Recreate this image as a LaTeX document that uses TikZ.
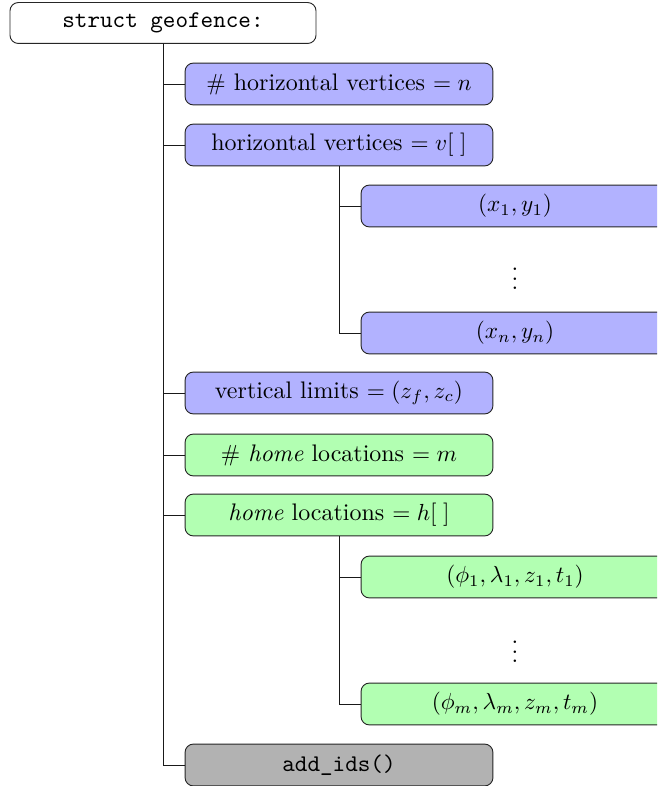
\documentclass[tikz,border=0pt]{standalone}
\begin{document}
\begin{tikzpicture}[x=0.43pt,y=-0.43pt,
  box/.style={draw=black!85, rounded corners=3.6pt, minimum width=132.4pt, minimum height=18pt, inner sep=0pt, font=\fontsize{10.3pt}{12.4pt}\selectfont},
  bluebox/.style={box, fill=blue!30},
  greenbox/.style={box, fill=green!30},
  graybox/.style={box, fill=black!30},
  dotnode/.style={font=\fontsize{10.3pt}{12.4pt}\selectfont},
  conn/.style={draw=black!90, line width=0.4pt}]
\useasboundingbox (0,0) rectangle (657,786);
\clip (0,0) rectangle (657,786);
\node[box, fill=white, minimum width=131.6pt, minimum height=17.6pt] (root) at (163,23) {\texttt{struct geofence:}};
\node[bluebox] (nv) at (339,84) {$\#$ horizontal vertices $= n$};
\node[bluebox] (hv) at (339,145) {horizontal vertices $= v[\;]$};
\node[bluebox] (x1) at (515,206) {$(x_1, y_1)$};
\node[dotnode] (d1) at (515,272) {$\vdots$};
\node[bluebox] (xn) at (515,333) {$(x_n, y_n)$};
\node[bluebox] (vl) at (339,393) {vertical limits $= (z_f, z_c)$};
\node[greenbox] (nh) at (339,455) {$\#$ \emph{home} locations $= m$};
\node[greenbox] (hl) at (339,515) {\emph{home} locations $= h[\;]$};
\node[greenbox] (h1) at (515,577) {$(\phi_1, \lambda_1, z_1, t_1)$};
\node[dotnode] (d2) at (515,645) {$\vdots$};
\node[greenbox] (hm) at (515,704) {$(\phi_m, \lambda_m, z_m, t_m)$};
\node[graybox] (ai) at (339,765) {\texttt{add\_ids()}};
\foreach \n in {nv,hv,vl,nh,hl,ai} \draw[conn] (root.south) |- (\n.west);
\foreach \n in {x1,xn} \draw[conn] (hv.south) |- (\n.west);
\foreach \n in {h1,hm} \draw[conn] (hl.south) |- (\n.west);
\end{tikzpicture}
\end{document}
